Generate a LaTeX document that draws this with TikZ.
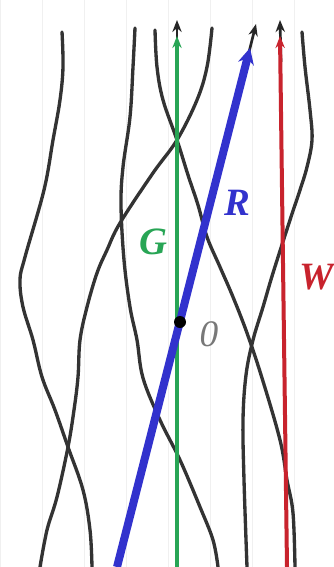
\documentclass[tikz,border=0pt]{standalone}
\usepackage{fontspec}
\setmainfont{Liberation Serif}
\usetikzlibrary{arrows.meta}
\definecolor{gcol}{RGB}{40,165,85}
\definecolor{bcol}{RGB}{50,50,205}
\definecolor{rcol}{RGB}{200,35,45}
\definecolor{ocol}{RGB}{120,120,120}
\tikzset{
  wline/.style={line width=2.5pt,black!80,line cap=round,line join=round},
  lab/.style={font=\fontsize{29}{29}\selectfont\bfseries\itshape,inner sep=0pt},
  tipline/.style={line width=2pt,black!85},
}
\begin{document}
\begin{tikzpicture}[x=0.75pt,y=-0.75pt]
\fill[white] (0,0) rectangle (334,567);
\useasboundingbox (0,0) rectangle (334,567);
% faint graph-paper grid
\draw[black!6,line width=0.6pt,xstep=42,ystep=42] (0,0) grid (334,567);
% world lines
\draw[wline] plot[smooth,tension=0.6] coordinates {(62,32) (63,67) (60,100) (53,140) (44,190) (25,257) (20,280) (23,307) (33,340) (42,377) (55,410) (68,447) (83,490) (90,530) (92,567)};
\draw[wline] plot[smooth,tension=0.6] coordinates {(212,28) (207,67) (197,100) (177,140) (153,173) (120,223) (107,250) (97,273) (87,307) (80,340) (78,377) (74,410) (68,447) (57,497) (47,530) (40,567)};
\draw[wline] plot[smooth,tension=0.6] coordinates {(135,28) (133,67) (130,117) (123,167) (121,205) (124,260) (130,307) (137,340) (143,378) (160,420) (180,460) (200,507) (213,540) (218,567)};
\draw[wline] plot[smooth,tension=0.6] coordinates {(155,30) (157,67) (163,100) (177,140) (188,175) (198,205) (207,237) (220,267) (233,297) (247,333) (262,378) (280,440) (287,480) (293,513) (295,567)};
\draw[wline] plot[smooth,tension=0.6] coordinates {(302,32) (305,67) (310,110) (312,140) (307,167) (300,190) (290,220) (273,273) (263,307) (253,340) (246,375) (243,420) (244,480) (247,567)};
% named ends of the axes
\coordinate (gb) at (177,567); \coordinate (gt) at (177,36); \coordinate (gtip) at (177,20); \coordinate (gk) at (177,62);
\coordinate (rb) at (287,567); \coordinate (rt) at (280,36); \coordinate (rtip) at (280,20); \coordinate (rk) at (281,62);
\coordinate (bb) at (117,567); \coordinate (bt) at (250,48); \coordinate (btip) at (256,24); \coordinate (bk) at (244,72);
% black arrow tips underneath
\draw[tipline,-{Stealth[length=9pt,width=7pt]}] (gk) -- (gtip);
\draw[tipline,-{Stealth[length=9pt,width=7pt]}] (rk) -- (rtip);
\draw[tipline,-{Stealth[length=9pt,width=7pt]}] (bk) -- (btip);
% coloured axes
\draw[gcol,line width=3pt,-{Stealth[length=9pt,width=7pt]}] (gb) -- (gt);
\draw[rcol,line width=3pt,-{Stealth[length=9pt,width=7pt]}] (rb) -- (rt);
\draw[bcol,line width=6pt,-{Stealth[length=12pt,width=12pt]}] (bb) -- (bt);
% origin
\fill[black] (180,322) circle (4.5pt);
\node[lab,gcol] (G) at (153,242) {G};
\node[lab,bcol] (R) at (237,203) {R};
\node[lab,rcol] (W) at (317,277) {W};
\node[inner sep=0pt,font=\fontsize{28}{28}\selectfont\itshape,ocol] (O) at (209,334) {0};
\end{tikzpicture}
\end{document}
